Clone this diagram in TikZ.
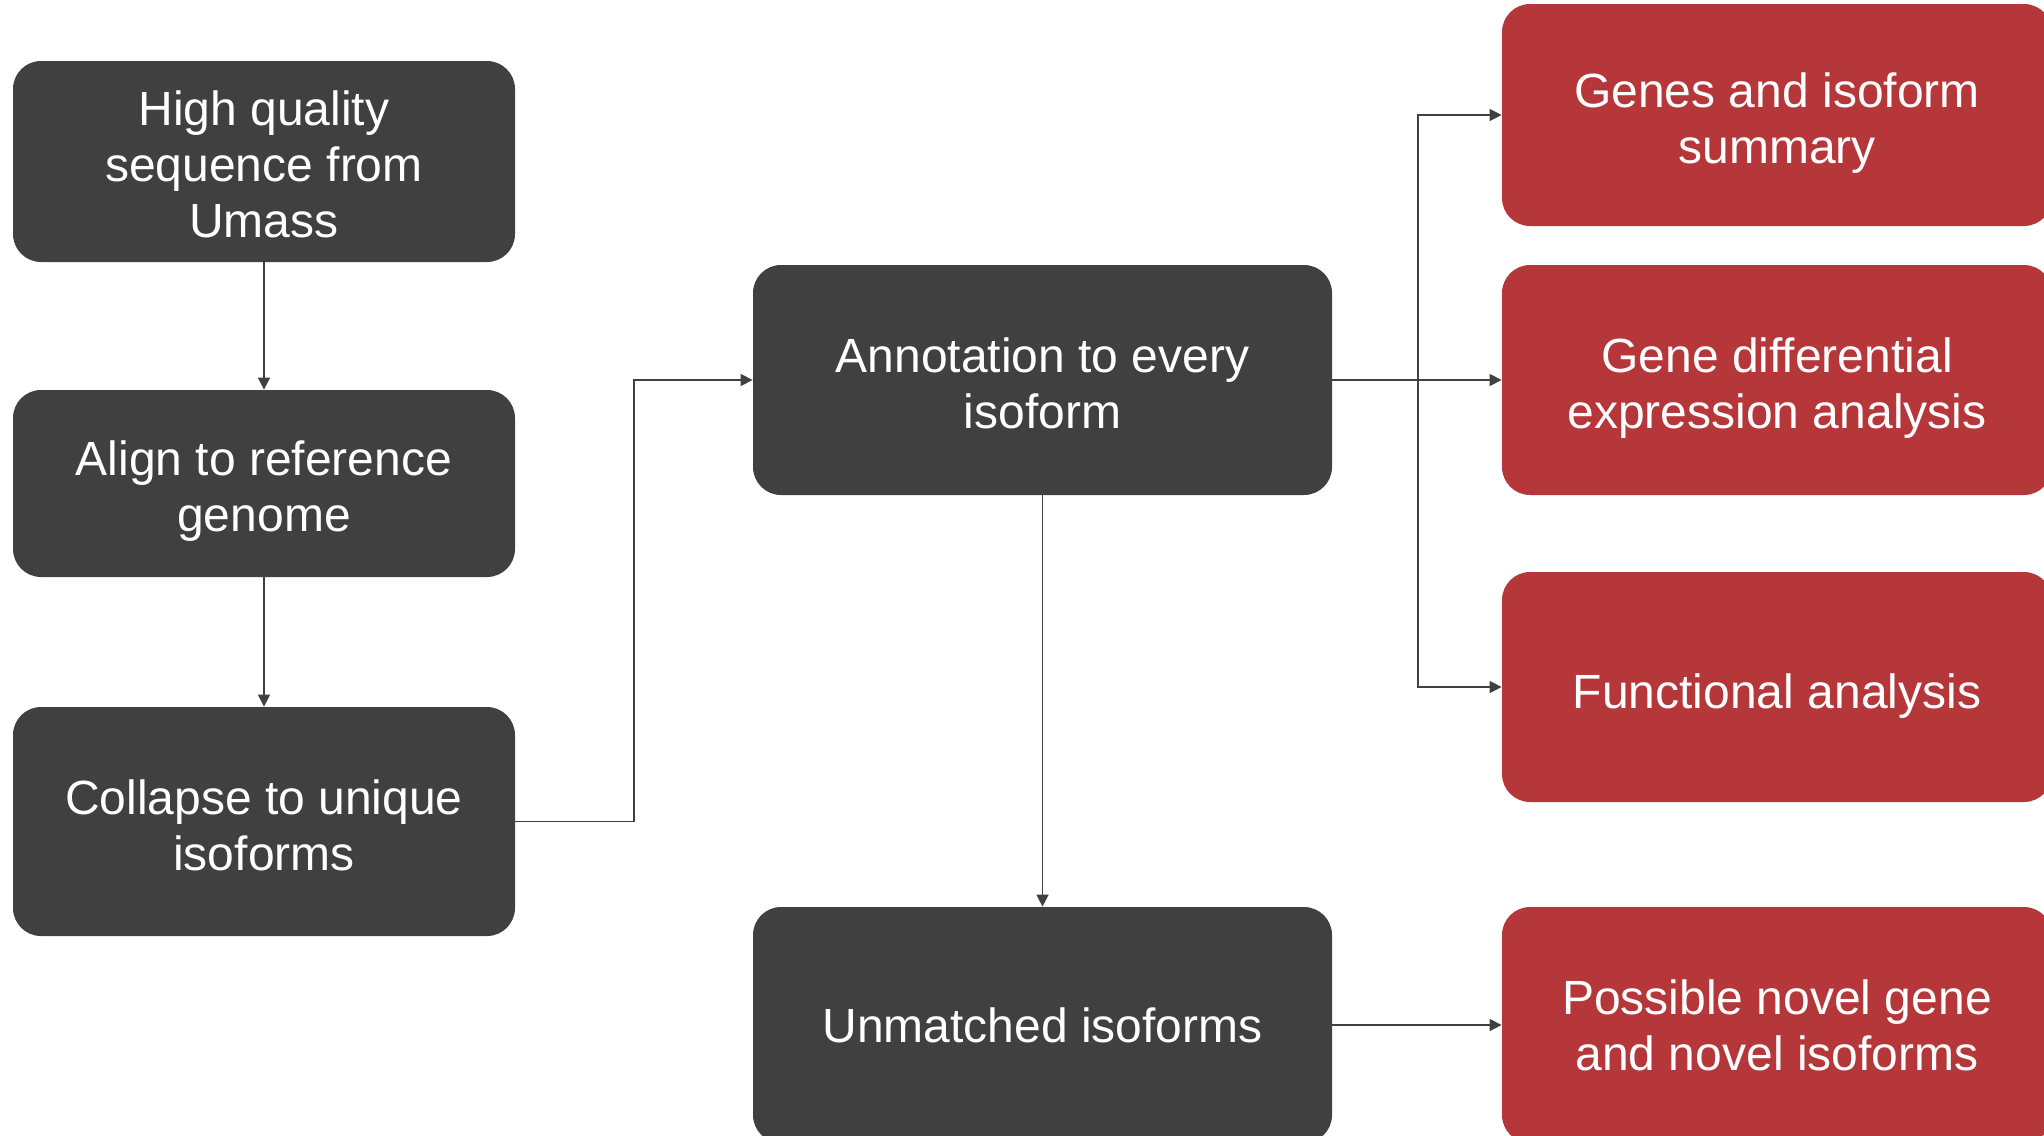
\documentclass[tikz,border=0pt]{standalone}
\usepackage{fontspec}
\setmainfont{Liberation Sans}
\usepackage{xcolor}
\usepackage{tikz}
\usetikzlibrary{
  arrows.meta,
  positioning
}
\definecolor{boxgray}{HTML}{404040}
\definecolor{boxred}{HTML}{B5373A}
% lines of a box, lowered by #1
\newcommand{\boxtext}[2]{\raisebox{#1}[\height][\depth]{\begin{tabular}{@{}c@{}}#2\end{tabular}}}

\begin{document}
\begin{tikzpicture}[x=0.5pt, y=-0.5pt, >={Triangle[length=6pt, width=6pt]},
  darkbox/.style={fill=boxgray, rounded corners=14pt, text=white,
    inner sep=0pt, font=\fontsize{24}{28}\selectfont},
  redbox/.style={darkbox, fill=boxred, minimum width=275pt},
  link/.style={draw=boxgray, line width=0.75pt}]
  \useasboundingbox (0,0) rectangle (2044,1135);
  % left column
  \node [darkbox, minimum width=251pt, minimum height=100.5pt] (umass) at (264,161.5) {\boxtext{-4.2pt}{High quality \\ sequence from \\ Umass}};
  \node [darkbox, minimum width=251pt, minimum height=93.5pt] (align) at (264,483.5) {\boxtext{-4.2pt}{Align to reference \\ genome}};
  \node [darkbox, minimum width=251pt, minimum height=114.5pt] (collapse) at (264,821.5) {\boxtext{-4.7pt}{Collapse to unique \\ isoforms}};
  % middle column
  \node [darkbox, minimum width=289.5pt, minimum height=115pt] (annot) at (1042.5,380) {\boxtext{-4.4pt}{Annotation to every \\ isoform}};
  \node [darkbox, minimum width=289.5pt, minimum height=118pt] (unmatched) at (1042.5,1025) {\boxtext{-3.2pt}{Unmatched isoforms}};
  % right column
  \node [redbox, minimum height=111pt] (summary) at (1777,115) {\boxtext{-4.8pt}{Genes and isoform \\ summary}};
  \node [redbox, minimum height=115pt] (diffexp) at (1777,380) {\boxtext{-4.6pt}{Gene differential \\ expression analysis}};
  \node [redbox, minimum height=115pt] (functional) at (1777,687) {\boxtext{-5.1pt}{Functional analysis}};
  \node [redbox, minimum height=118pt] (novel) at (1777,1025) {\boxtext{-3.2pt}{Possible novel gene \\ and novel isoforms}};
  \coordinate (bend) at (634,0);
  \coordinate (split) at (1418,0);
  \draw [link, ->] (umass) -- (align);
  \draw [link, ->] (align) -- (collapse);
  \draw [link, ->] (collapse.east) -| (bend |- annot.west) -- (annot.west);
  \draw [link, ->] (annot.east) -- (diffexp.west);
  \draw [link, ->] (annot.east -| split) |- (summary.west);
  \draw [link, ->] (annot.east -| split) |- (functional.west);
  \draw [link, ->] (annot) -- (unmatched);
  \draw [link, ->] (unmatched.east |- novel.west) -- (novel.west);
\end{tikzpicture}
\end{document}
